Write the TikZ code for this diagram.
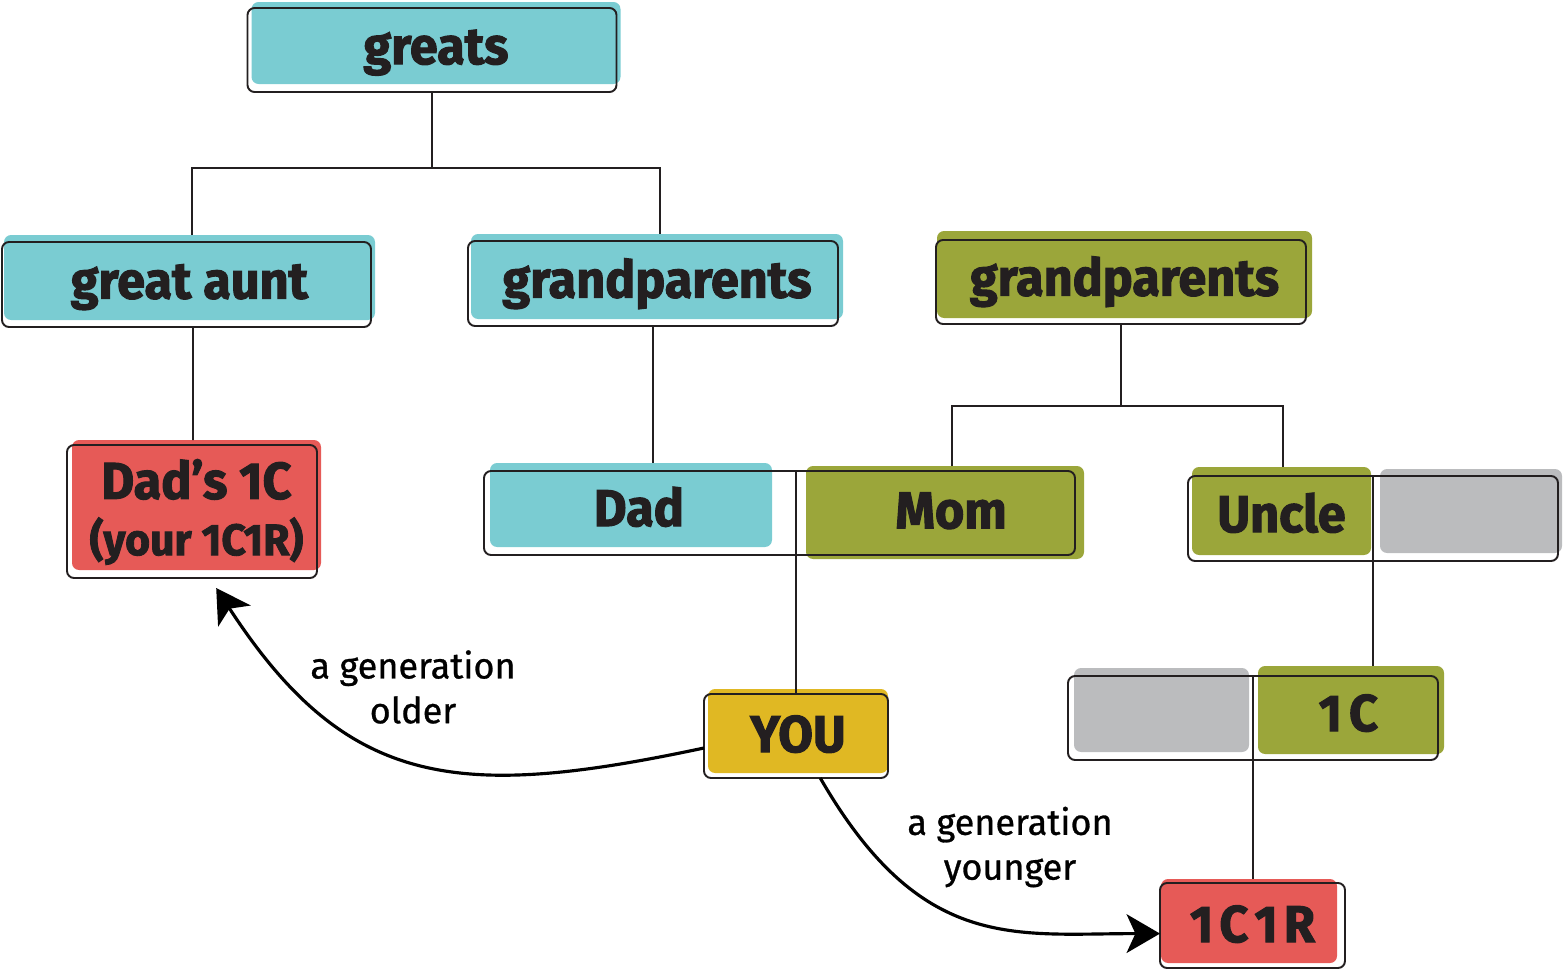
\documentclass[tikz,border=0pt]{standalone}
\usepackage{fontspec}
\setmainfont{Fira Sans}
\newfontfamily\boxfont{Fira Sans}[UprightFont=* Bold, FakeBold=2, FakeStretch=0.97]
\newfontfamily\notefont{Fira Sans}[FakeBold=0.8]
\usepackage{tikz}
\usetikzlibrary{arrows.meta, positioning, calc}
\definecolor{treeTeal}{HTML}{7ACCD2}
\definecolor{treeGreen}{HTML}{9BA63A}
\definecolor{treeRed}{HTML}{E65A57}
\definecolor{treeGold}{HTML}{E0B823}
\definecolor{treeGray}{HTML}{BBBCBE}
\definecolor{ink}{HTML}{231F20}
\newdimen\pxl \pxl=0.02cm

\begin{document}
\begin{tikzpicture}[x=0.02cm, y=0.02cm, >={Stealth[length=19pt, width=22pt, inset=5pt]},
  every node/.style={inner sep=0pt, outer sep=0pt},
  dims/.style 2 args={minimum width=#1*0.02cm, minimum height=#2*0.02cm},
  tag/.style={rounded corners=4pt, text=ink, text height=27pt, text depth=3pt,
    font=\boxfont\fontsize{29.5}{32}\selectfont},
  frame/.style={draw=ink, line width=1.1pt, rounded corners=4pt},
  branch/.style={draw=ink, line width=1pt},
  hop/.style={->, draw=black, line width=1.8pt},
  note/.style={align=center, text=black, font=\notefont\fontsize{20.5}{25.5}\selectfont}]

  \useasboundingbox (0,0) rectangle (1563,-970);

  \node[tag, fill=treeTeal, dims={369}{82}] (greats) at (436,-43) {greats};
  \node[frame, dims={369}{84}] (greatsF) at (432,-50) {};
  \node[tag, fill=treeTeal, dims={371}{85}] (aunt) at (189.5,-277.5) {great aunt};
  \node[frame, dims={369}{85}] (auntF) at (186.5,-284.5) {};
  \node[tag, fill=treeTeal, dims={372}{85}] (gpT) at (657,-276.5) {grandparents};
  \node[frame, dims={370}{85}] (gpTF) at (653,-283.5) {};
  \node[tag, fill=treeGreen, dims={375}{87}] (gpG) at (1124.5,-274.5) {grandparents};
  \node[frame, dims={370}{84}] (gpGF) at (1121,-282) {};

  \node[tag, fill=treeRed, dims={249}{130}, align=center, text height=59pt, text depth=2pt] (d1c) at (196.5,-505)
    {Dad’s 1C\\{\fontsize{25}{29.5}\selectfont(your 1C1R)}};
  \node[frame, dims={250}{133}] (d1cF) at (192,-511.5) {};
  \node[tag, fill=treeTeal, dims={282}{84}] (dad) at (631,-505) {\kern9pt Dad};
  \node[tag, fill=treeGreen, dims={278}{93}, text depth=9pt] (mom) at (945,-512.5) {\kern7pt Mom};
  \node[frame, dims={591}{84}] (pairF) at (779.5,-513) {};
  \node[tag, fill=treeGreen, dims={179}{88}] (uncle) at (1281.5,-511) {Uncle};
  \node[tag, fill=treeGray, dims={182}{84}] (spouse) at (1471,-511) {};
  \node[frame, dims={370}{85}] (uncleF) at (1373,-518.5) {};

  \node[tag, fill=treeGold, dims={180}{84}] (you) at (798,-731) {YOU};
  \node[frame, dims={184}{84}] (youF) at (796,-736) {};
  \node[tag, fill=treeGray, dims={175}{84}] (sibling) at (1161.5,-710) {};
  \node[tag, fill=treeGreen, dims={186}{88}] (c1) at (1351,-710) {1\kern4pt C\kern3pt};
  \node[frame, dims={370}{84}] (c1F) at (1253,-718) {};
  \node[tag, fill=treeRed, dims={176}{84}] (c1r) at (1249,-921) {\kern4pt 1\kern3.5pt C\kern3.5pt 1\kern3.5pt R};
  \node[frame, dims={185}{85}] (c1rF) at (1252.5,-925.5) {};

  \coordinate (fork1) at (432,-168);
  \coordinate (fork2) at (1121,-406);
  \draw[branch] (greatsF.south) -- (fork1);
  \draw[branch] ([xshift=2.5\pxl]aunt.north) |- (fork1) -| ([xshift=3\pxl]gpT.north);
  \draw[branch] ([xshift=6.5\pxl]auntF.south) -- ([xshift=-3.5\pxl]d1c.north);
  \draw[branch] (gpTF.south) -- (gpTF.south |- dad.north);
  \draw[branch] (gpGF.south) -- (fork2);
  \draw[branch] ([xshift=7\pxl]mom.north) |- (fork2) -| ([xshift=1.5\pxl]uncle.north);
  \draw[branch] (youF.north |- pairF.north) -- (youF.north);
  \draw[branch] (uncleF.north) -- (uncleF.north |- c1.north);
  \draw[branch] (c1F.north) -- (c1F.north |- c1r.north);

  \draw[hop] ([yshift=-12\pxl]youF.west) to[out=192, in=-57, out looseness=1.25, in looseness=1.2]
    ([yshift=-10\pxl]d1cF.-70);
  \draw[hop] (youF.-60) to[out=-60, in=180, out looseness=1.38] (c1rF.185);

  \node[note] (older) at (413,-687) {a generation\\older};
  \node[note] (younger) at (1010,-847) {a generation\\younger};

\end{tikzpicture}
\end{document}
